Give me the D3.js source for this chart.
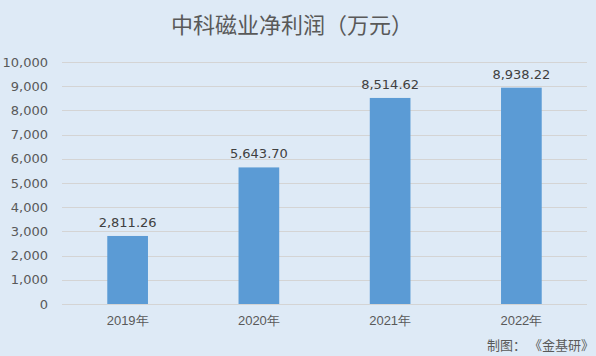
<!DOCTYPE html>
<html>
<head>
<meta charset="utf-8">
<script src="https://cdn.jsdelivr.net/npm/d3@7"></script>
<style>
  body { margin: 0; }
  svg { display: block; font-family: "Microsoft YaHei", "Noto Sans CJK SC", sans-serif; }
</style>
</head>
<body>
<div id="chart"></div>
<script>
// data
const years = ["2019年", "2020年", "2021年", "2022年"];
const profit = [2811.26, 5643.70, 8514.62, 8938.22];
const yTicks = [0, 1000, 2000, 3000, 4000, 5000, 6000, 7000, 8000, 9000, 10000];

const W = 596, H = 356;
const margin = {top: 62, right: 9, bottom: 52, left: 62};
const width = W - margin.left - margin.right;
const height = H - margin.top - margin.bottom;

const root = d3.select("#chart")
  .append("svg")
  .attr("width", W)
  .attr("height", H);

root.append("rect")
  .attr("width", W)
  .attr("height", H)
  .attr("fill", "#deeaf6");

// title
root.append("text")
  .attr("x", 292)
  .attr("y", 33)
  .attr("text-anchor", "middle")
  .style("font-size", "22px")
  .style("fill", "#595959")
  .text("中科磁业净利润（万元）");

const svg = root.append("g")
  .attr("transform", `translate(${margin.left}, ${margin.top})`);

const x = d3.scaleBand()
  .range([0, width])
  .domain(years)
  .padding(0);

const y = d3.scaleLinear()
  .range([height, 0])
  .domain([0, 10000]);

// grid lines
svg.append("g")
  .attr("class", "grid")
  .call(d3.axisLeft(y).tickValues(yTicks).tickSize(-width).tickFormat(""))
  .call(g => g.select(".domain").remove());

svg.selectAll(".grid line")
  .style("stroke", "#d4d4d4")
  .style("stroke-width", 1)
  .style("shape-rendering", "crispEdges");

// y axis labels
svg.append("g")
  .attr("class", "yaxis")
  .call(d3.axisLeft(y).tickValues(yTicks).tickSize(0).tickPadding(14).tickFormat(d3.format(",")))
  .call(g => g.select(".domain").remove())
  .selectAll("text")
    .style("font-size", "13px")
    .style("font-family", "Verdana, 'DejaVu Sans', sans-serif")
    .style("fill", "#595959");

// x axis labels
svg.append("g")
  .attr("transform", `translate(0, ${height})`)
  .call(d3.axisBottom(x).tickSize(0).tickPadding(12))
  .call(g => g.select(".domain").remove())
  .selectAll("text")
    .style("font-size", "13px")
    .style("fill", "#595959");

// bars
const barW = x.bandwidth() * 0.31;
svg.selectAll(".bar")
  .data(profit)
  .join("rect")
    .attr("class", "bar")
    .attr("x", (d, i) => x(years[i]) + (x.bandwidth() - barW) / 2)
    .attr("y", d => y(d))
    .attr("width", barW)
    .attr("height", d => height - y(d))
    .style("fill", "#5b9bd5");

// value labels
svg.selectAll(".lbl")
  .data(profit)
  .join("text")
    .attr("class", "lbl")
    .attr("x", (d, i) => x(years[i]) + x.bandwidth() / 2)
    .attr("y", d => y(d) - 9)
    .attr("text-anchor", "middle")
    .style("font-size", "13px")
    .style("font-family", "Verdana, 'DejaVu Sans', sans-serif")
    .style("fill", "#404040")
    .text(d => d3.format(",.2f")(d));

// source
root.append("text")
  .attr("x", 594)
  .attr("y", 350)
  .attr("text-anchor", "end")
  .style("font-size", "13px")
  .style("fill", "#595959")
  .text("制图： 《金基研》");
</script>
</body>
</html>
